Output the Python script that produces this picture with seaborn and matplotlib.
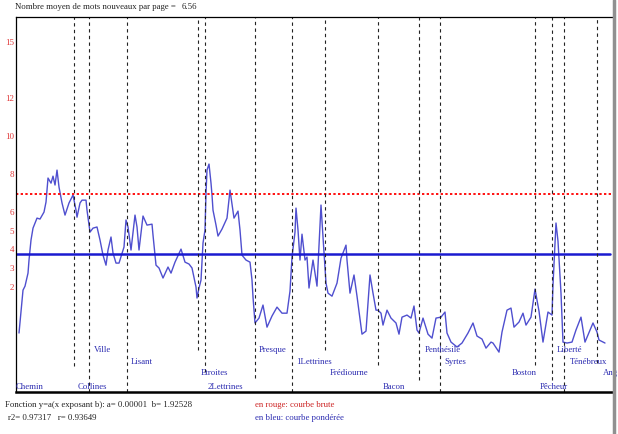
import matplotlib
matplotlib.use("Agg")
import matplotlib.pyplot as plt
import seaborn as sns
import pandas as pd
from matplotlib.lines import Line2D

# ---------------- data ----------------
pages = [4, 8, 10, 13, 14, 16, 18, 22, 25, 29, 31, 33, 36, 38, 40, 42, 44, 47, 50, 54,
         58, 61, 62, 65, 67, 71, 72, 75, 78, 82, 85, 88, 91, 93, 96, 98, 101, 104, 109, 111,
         113, 116, 120, 122, 124, 128, 132, 137, 138, 141, 144, 148, 153, 156, 160, 166, 170, 174, 177, 181,
         182, 184, 186, 188, 190, 191, 192, 194, 196, 197, 198, 201, 203, 207, 212, 215, 219, 223, 225, 227,
         231, 235, 237, 238, 240, 244, 248, 252, 257, 262, 267, 272, 275, 277, 280, 281, 283, 285, 287, 290,
         292, 294, 298, 302, 306, 308, 311, 313, 317, 322, 326, 331, 332, 335, 339, 342, 347, 351, 355, 358,
         361, 363, 366, 368, 372, 376, 381, 384, 387, 392, 396, 399, 402, 404, 408, 413, 417, 421, 426, 430,
         432, 436, 442, 447, 453, 458, 462, 467, 471, 476, 478, 484, 487, 492, 496, 499, 504, 508, 511, 516,
         520, 524, 528, 533, 537, 538, 541, 543, 546, 548, 552, 557, 561, 566, 570, 575, 578, 582, 584, 590]
values = [-0.42, 1.85, 2.06, 2.75, 3.44, 4.50, 5.13, 5.66, 5.61, 5.98, 6.51, 7.78, 7.51, 7.88, 7.41, 8.20, 7.30, 6.46, 5.82, 6.46,
          6.88, 6.08, 5.71, 6.46, 6.61, 6.61, 6.08, 4.92, 5.13, 5.19, 4.50, 3.70, 3.17, 3.97, 4.66, 3.81, 3.28, 3.28, 4.13, 5.56,
          5.19, 3.97, 5.82, 5.19, 3.97, 5.77, 5.29, 5.34, 4.76, 3.17, 3.02, 2.49, 3.07, 2.75, 3.33, 4.02, 3.33, 3.23, 3.02, 2.01,
          1.43, 1.96, 2.38, 4.34, 5.03, 6.98, 8.20, 8.52, 7.51, 6.88, 6.08, 5.29, 4.71, 5.08, 5.66, 7.14, 5.66, 6.03, 5.03, 3.70,
          3.44, 3.33, 2.38, 1.48, 0.11, 0.37, 1.06, -0.11, 0.48, 0.95, 0.63, 0.63, 1.80, 3.60, 4.92, 6.19, 5.03, 3.44, 4.81, 3.44,
          3.60, 1.96, 3.44, 2.06, 6.35, 4.66, 2.22, 1.69, 1.53, 2.22, 3.54, 4.23, 3.44, 1.69, 2.65, 1.53, -0.48, -0.32, 2.65, 1.69,
          0.79, 0.79, 0.63, 0.00, 0.79, 0.37, 0.11, -0.48, 0.42, 0.53, 0.37, 1.01, -0.26, -0.42, 0.37, -0.48, -0.69, 0.37, 0.42, 0.69,
          -0.42, -0.90, -1.16, -0.95, -0.42, 0.11, -0.58, -0.74, -1.22, -0.90, -0.95, -1.43, -0.37, 0.79, 0.90, -0.11, 0.16, 0.63, 0.00, 0.42,
          1.90, 0.74, -0.90, 0.69, 0.53, 2.12, 5.40, 4.44, 1.69, -0.90, -0.95, -0.90, -0.26, 0.42, -0.90, -0.26, 0.11, -0.37, -0.79, -0.95]

raw_level = 6.93        # red dotted line
weighted_level = 3.76   # blue solid line

boundaries = [59, 74, 112, 183, 190, 240, 277, 310, 363, 404, 425, 520, 537, 549, 582]
section_names = ["Chemin", "Collines", "Ville", "Lisant", "Etroites", "2Lettrines", "Presque",
                 "1Lettrines", "Frédiourne", "Bacon", "Penthésilé", "Syrtes", "Boston",
                 "Pêcheur", "Liberté", "Ténébreux", "Ang"]
section_label_x = [0, 62, 78, 115, 185, 192, 243, 281, 314, 367, 409, 429, 496, 524, 541, 554, 587]

ytick_values = [2, 3, 4, 5, 6, 8, 10, 12, 15]

# ---------------- styling / layout ----------------
line_bottoms = [0.069, 0.0, 0.0, 0.112, 0.053, 0.037, 0.0, 0.112, 0.072, 0.032, 0.0, 0.072, 0.032, 0.0, 0.077]
label_rows = [3, 3, 0, 1, 2, 3, 0, 1, 2, 3, 0, 1, 2, 3, 0, 1, 2]
row_y = [-1.32, -1.96, -2.54, -3.28]

sns.set_style("white")
plt.rcParams['font.family'] = ['Liberation Serif', 'DejaVu Serif']

fig = plt.figure(figsize=(6.18, 4.34), dpi=100)
fig.patch.set_facecolor("white")
ax = fig.add_axes([0.0251, 0.0968, 0.9668, 0.864])

df = pd.DataFrame({"page": pages, "value": values})
sns.lineplot(data=df, x="page", y="value", ax=ax, color="#4f4fcf", linewidth=1.0)

ax.axhline(raw_level, color="#ff1010", linestyle=(0, (1.2, 1.2)), linewidth=1.4)
ax.axhline(weighted_level, xmax=0.995, color="#1a1ad0", linewidth=1.8)

for b, lb in zip(boundaries, line_bottoms):
    ax.axvline(b, ymin=lb, ymax=1, color="#222222", linestyle=(0, (3, 3)), linewidth=0.8)

for name, lx, r in zip(section_names, section_label_x, label_rows):
    ax.text(lx + 0.5, row_y[r], name, color="#2a2ab0", fontsize=6.3, ha="left", va="center")

ax.set_xlim(0.5, 598)
ax.set_ylim(-3.54, 16.3)
ax.set_yticks(ytick_values)
ax.set_yticklabels([str(v) for v in ytick_values], color="#e03a3a", fontsize=6.5)
ax.set_xticks([])
ax.tick_params(axis="y", length=0, pad=1)
ax.set_xlabel("")
ax.set_ylabel("")

for side in ["top", "left"]:
    ax.spines[side].set_color("black")
    ax.spines[side].set_linewidth(0.9)
ax.spines["bottom"].set_color("black")
ax.spines["bottom"].set_linewidth(1.8)
ax.spines["right"].set_visible(False)

# right grey border of the window
fig.add_artist(Line2D([613.5 / 618, 613.5 / 618], [0, 1], transform=fig.transFigure,
                      color="#909090", linewidth=2.5))

fig.text(15 / 618, 1 - 7 / 434, "Nombre moyen de mots nouveaux par page =", fontsize=6.3,
         ha="left", va="center", color="#222222")
fig.text(182 / 618, 1 - 7 / 434, "6.56", fontsize=6.3, ha="left", va="center", color="#222222")
fig.text(5 / 618, 1 - 405 / 434, "Fonction y=a(x exposant b): a= 0.00001  b= 1.92528", fontsize=6.3,
         ha="left", va="center", color="#222222")
fig.text(8 / 618, 1 - 418 / 434, "r2= 0.97317   r= 0.93649", fontsize=6.3,
         ha="left", va="center", color="#222222")
fig.text(255 / 618, 1 - 405 / 434, "en rouge: courbe brute", fontsize=6.3,
         ha="left", va="center", color="#cc2222")
fig.text(255 / 618, 1 - 418 / 434, "en bleu: courbe pondérée", fontsize=6.3,
         ha="left", va="center", color="#2a2ab0")

fig.savefig("out.png", dpi=100)
